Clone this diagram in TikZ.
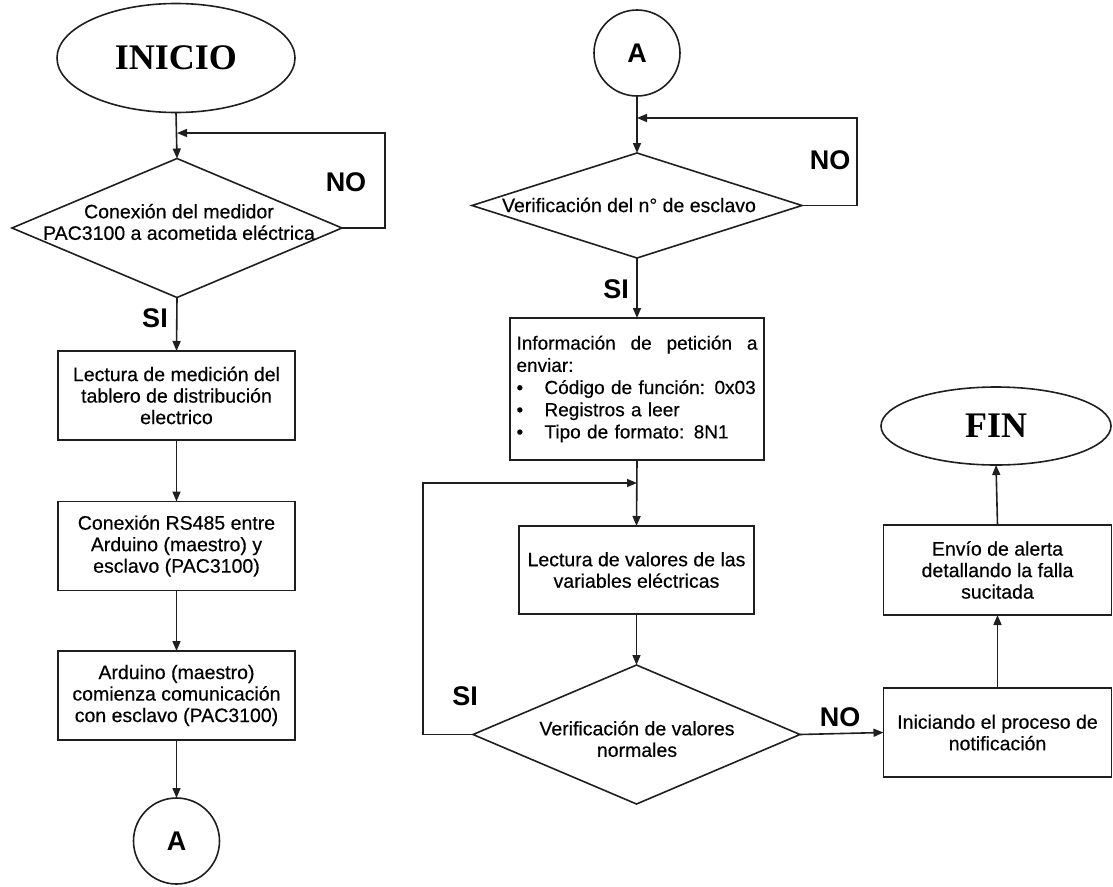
\documentclass[tikz,border=0pt]{standalone}
\usepackage{fontspec}
\setmainfont{Liberation Sans}[FakeBold=0.4]
\newfontfamily\labelfont{Liberation Sans}
\newfontfamily\titlefont{Liberation Serif}
\usetikzlibrary{shapes.geometric,arrows.meta}
\begin{document}
\begin{tikzpicture}[x=1pt,y=-1pt,
  line width=1.6pt, draw=black!88,
  every node/.style={outer sep=0pt},
  arr/.style={-{Triangle[length=10pt,width=8pt]}},
  body/.style={font=\fontsize{19.5}{21.5}\selectfont},
  procbox/.style={draw, rectangle, minimum width=237pt, minimum height=89pt,
    align=center, body, inner sep=2pt},
  decide/.style={draw, diamond, inner sep=0pt},
  terminal/.style={draw, ellipse, inner sep=0pt,
    font=\titlefont\bfseries\fontsize{36}{40}\selectfont},
  connector/.style={draw, circle, minimum size=86pt, inner sep=0pt,
    font=\labelfont\bfseries\fontsize{27}{30}\selectfont},
  tag/.style={font=\labelfont\bfseries\fontsize{27}{30}\selectfont, inner sep=0pt},
]
\useasboundingbox (0,0) rectangle (1113,886);

% ---------- left column ----------
\node[terminal, minimum width=238pt, minimum height=109pt] (inicio) at (176,58) {INICIO};
\node[decide, minimum width=330pt, minimum height=139pt] (d1) at (177,228) {};
\node[body, align=center, inner sep=0pt] (d1t) at (179,222)
  {Conexión del medidor\\PAC3100 a acometida eléctrica};
\coordinate (j1) at (177,133);
\node[procbox] (b1) at (176.5,395.5)
  {Lectura de medición del\\tablero de distribución\\electrico};
\node[procbox] (b2) at (176.5,546)
  {Conexión RS485 entre\\Arduino (maestro) y\\esclavo (PAC3100)};
\node[procbox] (b3) at (176.5,695.5)
  {Arduino (maestro)\\comienza comunicación\\con esclavo (PAC3100)};
\node[connector] (a1) at (176.5,841) {A};
\node[tag] (no1) at (346,182) {NO};
\node[tag] (si1) at (155,318) {SI};

\draw[arr] (inicio.south) -- (d1.north);
\draw[arr] (d1.east) -- ++(43,0) |- (j1);
\draw[arr] (d1.south) -- (b1.north);
\draw[arr] (b1.south) -- (b2.north);
\draw[arr] (b2.south) -- (b3.north);
\draw[arr] (b3.south) -- (a1.north);

% ---------- middle column ----------
\node[connector] (a2) at (637,53) {A};
\node[decide, minimum width=330pt, minimum height=105pt] (d2) at (637,205.5) {};
\node[body, inner sep=0pt] (d2t) at (629,205) {Verificación del n° de esclavo};
\coordinate (j2) at (637,118);
\node[draw, rectangle, font=\fontsize{19}{22.2}\selectfont,
  text width=241pt, inner xsep=6.5pt, inner ysep=0pt,
  minimum height=142pt, align=left] (b4) at (637,389)
  {Información\hfill de\hfill petición\hfill a\\
   enviar:\\
   \makebox[28pt][l]{\textbullet}Código de función: 0x03\\
   \makebox[28pt][l]{\textbullet}Registros a leer\\
   \makebox[28pt][l]{\textbullet}Tipo de formato: 8N1};
\coordinate (j3) at (637,483);
\node[procbox, minimum width=235pt, minimum height=88pt] (b5) at (636.5,570)
  {Lectura de valores de las\\variables eléctricas};
\node[decide, minimum width=327pt, minimum height=139pt] (d3) at (636.5,734.5) {};
\node[body, align=center, inner sep=0pt] (d3t) at (637,739)
  {Verificación de valores\\normales};
\node[tag] (no2) at (830,160) {NO};
\node[tag] (si2) at (616,289) {SI};
\node[tag] (si3) at (465,696) {SI};

\draw[arr] (a2.south) -- (d2.north);
\draw[arr] (d2.east) -- ++(55,0) |- (j2);
\draw[arr] (d2.south) -- (b4.north);
\draw[arr] (b4.south) -- (b5.north);
\draw[arr] (b5.south) -- (d3.north);
\draw[arr] (d3.west) -- ++(-50,0) |- (j3);

% ---------- right column ----------
\node[terminal, minimum width=230pt, minimum height=78pt] (fin) at (996,426) {FIN};
\node[procbox, minimum width=228pt, minimum height=90pt] (b7) at (997.5,570)
  {Envío de alerta\\detallando la falla\\sucitada};
\node[procbox, minimum width=228pt, minimum height=89pt] (b6) at (997.5,732.5)
  {Iniciando el proceso de\\notificación};
\node[tag] (no3) at (840,717) {NO};

\draw[arr] (d3.east) -- (b6.west);
\draw[arr] (b6.north) -- (b7.south);
\draw[arr] (b7.north) -- (fin.south);
\end{tikzpicture}
\end{document}
